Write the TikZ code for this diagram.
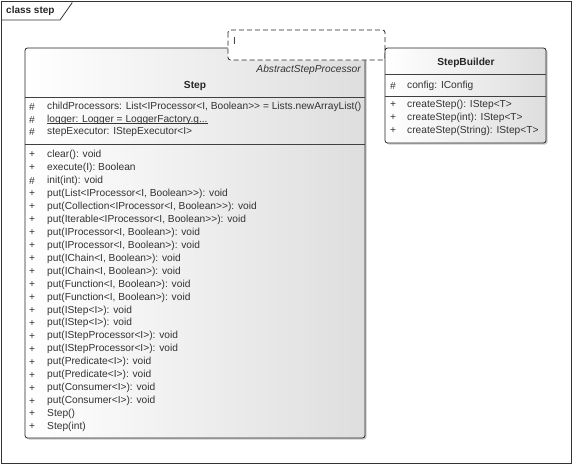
\documentclass[tikz,border=0pt]{standalone}
\usepackage{fontspec}
\setmainfont{Liberation Sans}[Ligatures=TeXOff]
\usetikzlibrary{shadows}
\begin{document}
\begin{tikzpicture}[x=1pt,y=-1pt,
  txt/.style={font=\fontsize{10.2}{12}\selectfont, anchor=west, inner sep=0pt, text=black!80},
  ttl/.style={font=\fontsize{10.2}{12}\selectfont\bfseries, inner sep=0pt, text=black!85},
  boxshade/.style={left color=white, right color=black!13, draw=black!85, line width=0.8pt, rounded corners=2.5pt,
    drop shadow={shadow xshift=1.5pt, shadow yshift=-1.5pt, opacity=0.35, fill=black!60}},
  sep/.style={draw=black!75, line width=0.6pt},
  tmpl/.style={draw=black!85, fill=white, dashed, dash pattern=on 5pt off 3pt, line width=0.8pt, rounded corners=2.5pt}
]
\useasboundingbox (0,0) rectangle (572,464);
% frame
\draw[black!80, line width=0.8pt] (1,1) rectangle (571,463);
\draw[black!80, line width=0.8pt] (1,20) -- (60,20) -- (72,3) -- (72,1);
\node[ttl, anchor=west, font=\fontsize{10}{12}\selectfont\bfseries] (frametitle) at (6,11) {class step};

% Step class
\path[boxshade] (25,48) rectangle (365,438);
\draw[sep] (25,97) -- (365,97);
\draw[sep] (25,144) -- (365,144);
\node[txt, anchor=east, font=\fontsize{10.2}{12}\selectfont\itshape] (stepstereo) at (361,70) {AbstractStepProcessor};
\node[ttl] (steptitle) at (195,86) {Step};
\foreach \v/\t [count=\i] in {
  \#/{childProcessors: List<IProcessor<I, Boolean>> = Lists.newArrayList()},
  \#/{logger: Logger = LoggerFactory.g...},
  \#/{stepExecutor: IStepExecutor<I>}} {
  \node[txt] (sv\i) at (29,107+12.6*\i-12.6) {\v};
  \node[txt] (sa\i) at (47,107+12.6*\i-12.6) {\t};
}
\draw[black!80, line width=0.5pt] ([yshift=-1.3pt]sa2.base west) -- ([yshift=-1.3pt]sa2.base east);
\foreach \v/\t [count=\i] in {
  +/{clear(): void},
  +/{execute(I): Boolean},
  \#/{init(int): void},
  +/{put(List<IProcessor<I, Boolean>>): void},
  +/{put(Collection<IProcessor<I, Boolean>>): void},
  +/{put(Iterable<IProcessor<I, Boolean>>): void},
  +/{put(IProcessor<I, Boolean>): void},
  +/{put(IProcessor<I, Boolean>): void},
  +/{put(IChain<I, Boolean>): void},
  +/{put(IChain<I, Boolean>): void},
  +/{put(Function<I, Boolean>): void},
  +/{put(Function<I, Boolean>): void},
  +/{put(IStep<I>): void},
  +/{put(IStep<I>): void},
  +/{put(IStepProcessor<I>): void},
  +/{put(IStepProcessor<I>): void},
  +/{put(Predicate<I>): void},
  +/{put(Predicate<I>): void},
  +/{put(Consumer<I>): void},
  +/{put(Consumer<I>): void},
  +/{Step()},
  +/{Step(int)}} {
  \node[txt] (mv\i) at (29,155+12.95*\i-12.95) {\v};
  \node[txt] (ma\i) at (47,155+12.95*\i-12.95) {\t};
}

% template parameter box
\path[tmpl] (228,30) rectangle (385,60);
\node[txt] (tparam) at (233,41) {I};

% StepBuilder class
\path[boxshade] (385,48) rectangle (546,143);
\draw[sep] (385,74) -- (546,74);
\draw[sep] (385,96) -- (546,96);
\node[ttl] (sbtitle) at (466,63) {StepBuilder};
\node[txt] (bv1) at (390,86) {\#};
\node[txt] (ba1) at (407,86) {config: IConfig};
\foreach \t [count=\i] in {{createStep(): IStep<T>},{createStep(int): IStep<T>},{createStep(String): IStep<T>}} {
  \node[txt] (bmv\i) at (390,105+13*\i-13) {+};
  \node[txt] (bma\i) at (407,105+13*\i-13) {\t};
}
\end{tikzpicture}
\end{document}
